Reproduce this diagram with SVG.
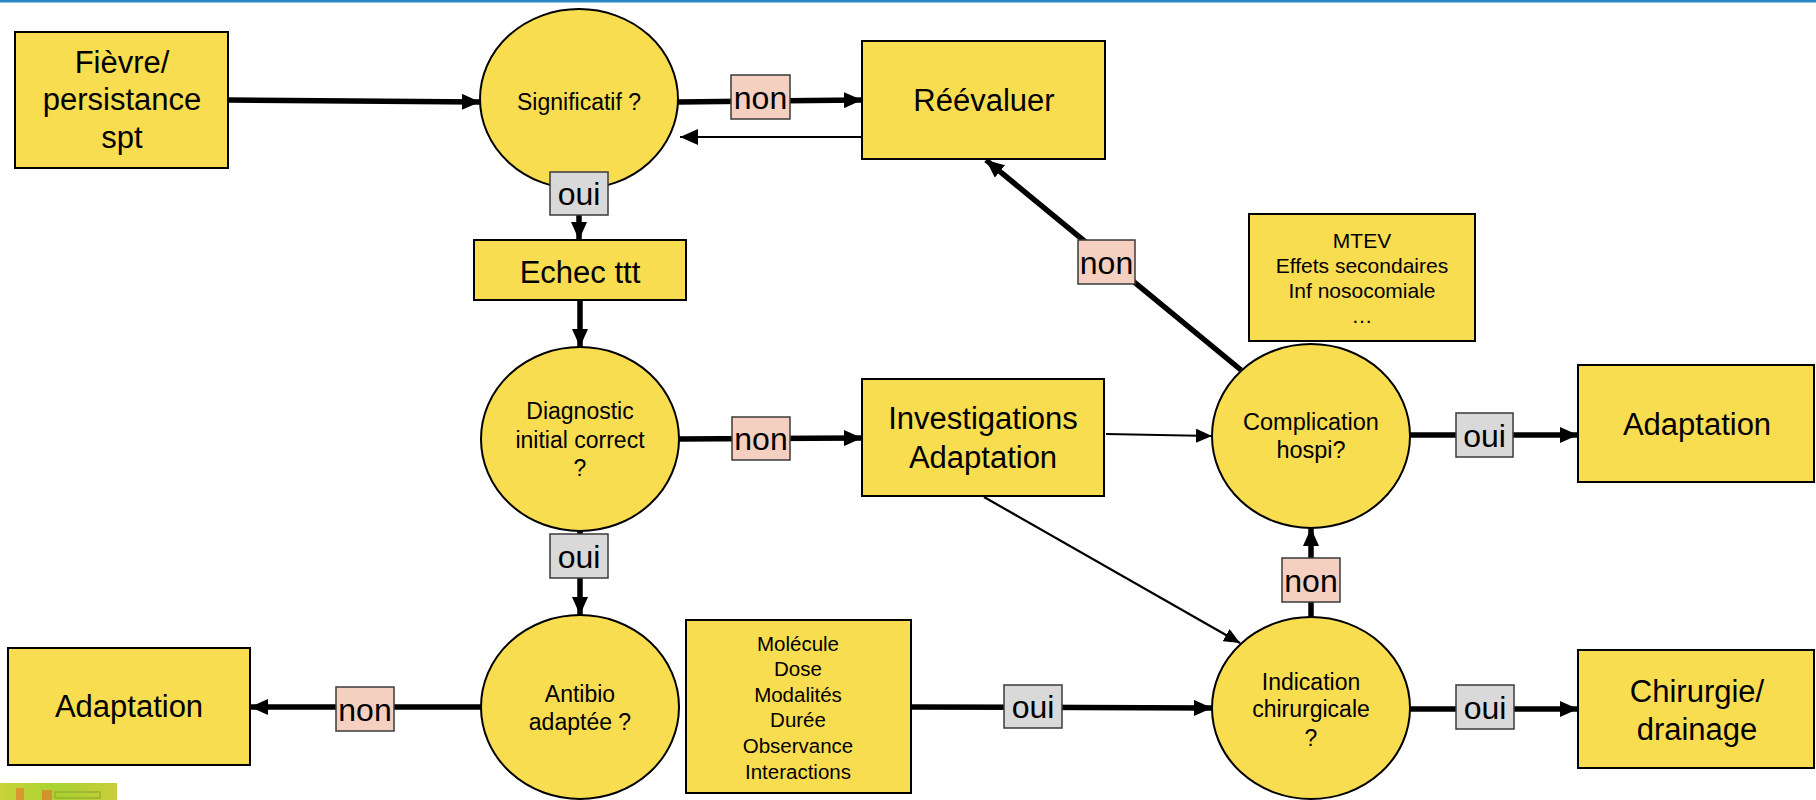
<svg xmlns="http://www.w3.org/2000/svg" width="1816" height="800" viewBox="0 0 1816 800">
<defs>
<style>
.box{fill:#F9DD50;stroke:#000;stroke-width:2}
.nd{fill:#F9DD50;stroke:#000;stroke-width:2}
.t{font-family:"Liberation Sans",Arial,sans-serif;fill:#000;text-anchor:middle}
.big{font-size:31px}
.mid{font-size:23px}
.sm{font-size:20.5px}
.lbl{font-size:32px}
.non{fill:#F5D0C0;stroke:#3a3a3a;stroke-width:1.5}
.oui{fill:#D9D9D9;stroke:#3a3a3a;stroke-width:1.5}
.thick{stroke:#000;stroke-width:5.5;fill:none}
.thin{stroke:#000;stroke-width:2.2;fill:none}
</style>
<marker id="ah" markerUnits="userSpaceOnUse" markerWidth="18" markerHeight="16" refX="18" refY="8" orient="auto"><path d="M0,0 L18,8 L0,16 Z" fill="#000"/></marker>
<marker id="ahs" markerUnits="userSpaceOnUse" markerWidth="16" markerHeight="14" refX="16" refY="7" orient="auto"><path d="M0,0 L16,7 L0,14 Z" fill="#000"/></marker>
<linearGradient id="logo" x1="0" y1="0" x2="1" y2="0"><stop offset="0" stop-color="#C9D33A"/><stop offset="0.5" stop-color="#A9D230"/><stop offset="1" stop-color="#C8CE3A"/></linearGradient>
</defs>
<rect x="0" y="0" width="1816" height="2.5" fill="#2A86C4"/>
<g id="logo-fragment">
<rect x="0" y="783" width="117" height="17" fill="url(#logo)"/>
<rect x="16" y="788" width="8" height="12" fill="#E08A2A" opacity="0.8"/>
<rect x="42" y="790" width="10" height="10" fill="#E0782A" opacity="0.7"/>
<rect x="55" y="792" width="45" height="6" fill="none" stroke="#9AB030" stroke-width="1.5"/>
</g>
<g id="connectors">
<line class="thick" x1="228" y1="100" x2="480" y2="102" marker-end="url(#ah)"/>
<line class="thick" x1="678" y1="102" x2="862" y2="100" marker-end="url(#ah)"/>
<line class="thin" x1="862" y1="137" x2="680" y2="137" marker-end="url(#ah)"/>
<line class="thick" x1="579" y1="189" x2="579" y2="240" marker-end="url(#ah)"/>
<line class="thick" x1="580" y1="300" x2="580" y2="347" marker-end="url(#ah)"/>
<line class="thick" x1="679" y1="439" x2="862" y2="438" marker-end="url(#ah)"/>
<line class="thick" x1="580" y1="531" x2="580" y2="615" marker-end="url(#ah)"/>
<line class="thick" x1="481" y1="707" x2="250" y2="707" marker-end="url(#ah)"/>
<line class="thick" x1="911" y1="707" x2="1212" y2="708" marker-end="url(#ah)"/>
<line class="thin" x1="1106" y1="434" x2="1212" y2="436" marker-end="url(#ahs)"/>
<line class="thin" x1="984" y1="497" x2="1240" y2="643" marker-end="url(#ahs)"/>
<line class="thick" x1="1241" y1="370" x2="986" y2="160" marker-end="url(#ah)"/>
<line class="thick" x1="1410" y1="435" x2="1578" y2="435" marker-end="url(#ah)"/>
<line class="thick" x1="1311" y1="617" x2="1311" y2="528" marker-end="url(#ah)"/>
<line class="thick" x1="1410" y1="709" x2="1578" y2="709" marker-end="url(#ah)"/>
</g>
<g id="fievre"><rect class="box" x="15" y="32" width="213" height="136"/>
<text class="t big"><tspan x="122" y="73">Fièvre/</tspan><tspan x="122" y="110">persistance</tspan><tspan x="122" y="148">spt</tspan></text></g>
<g id="significatif"><ellipse class="nd" cx="579" cy="99" rx="99" ry="90"/>
<text class="t mid" x="579" y="110">Significatif ?</text></g>
<g id="reevaluer"><rect class="box" x="862" y="41" width="243" height="118"/>
<text class="t big" x="984" y="111">Réévaluer</text></g>
<g id="echec"><rect class="box" x="474" y="240" width="212" height="60"/>
<text class="t big" x="580" y="283">Echec ttt</text></g>
<g id="diagnostic"><ellipse class="nd" cx="580" cy="439" rx="99" ry="92"/>
<text class="t mid"><tspan x="580" y="419">Diagnostic</tspan><tspan x="580" y="448">initial correct</tspan><tspan x="580" y="476">?</tspan></text></g>
<g id="investigations"><rect class="box" x="862" y="379" width="242" height="117"/>
<text class="t big"><tspan x="983" y="429">Investigations</tspan><tspan x="983" y="468">Adaptation</tspan></text></g>
<g id="mtev"><rect class="box" x="1249" y="214" width="226" height="127"/>
<text class="t" style="font-size:21px"><tspan x="1362" y="248">MTEV</tspan><tspan x="1362" y="273">Effets secondaires</tspan><tspan x="1362" y="298">Inf nosocomiale</tspan><tspan x="1362" y="323">…</tspan></text></g>
<g id="complication"><ellipse class="nd" cx="1311" cy="436" rx="99" ry="92"/>
<text class="t" style="font-size:23.5px"><tspan x="1311" y="430">Complication</tspan><tspan x="1311" y="458">hospi?</tspan></text></g>
<g id="adaptation-right"><rect class="box" x="1578" y="365" width="236" height="117"/>
<text class="t big" x="1697" y="435">Adaptation</text></g>
<g id="antibio"><ellipse class="nd" cx="580" cy="707" rx="99" ry="92"/>
<text class="t mid"><tspan x="580" y="702">Antibio</tspan><tspan x="580" y="730">adaptée ?</tspan></text></g>
<g id="adaptation-left"><rect class="box" x="8" y="648" width="242" height="117"/>
<text class="t big" x="129" y="717">Adaptation</text></g>
<g id="molecule"><rect class="box" x="686" y="620" width="225" height="173"/>
<text class="t sm"><tspan x="798" y="651">Molécule</tspan><tspan x="798" y="676">Dose</tspan><tspan x="798" y="702">Modalités</tspan><tspan x="798" y="727">Durée</tspan><tspan x="798" y="753">Observance</tspan><tspan x="798" y="779">Interactions</tspan></text></g>
<g id="indication"><ellipse class="nd" cx="1311" cy="708" rx="99" ry="91"/>
<text class="t mid"><tspan x="1311" y="690">Indication</tspan><tspan x="1311" y="717">chirurgicale</tspan><tspan x="1311" y="746">?</tspan></text></g>
<g id="chirurgie"><rect class="box" x="1578" y="650" width="236" height="118"/>
<text class="t big"><tspan x="1697" y="702">Chirurgie/</tspan><tspan x="1697" y="740">drainage</tspan></text></g>
<g id="labels">
<rect class="oui" x="550" y="172" width="58" height="43"/><text class="t lbl" x="579" y="205">oui</text>
<rect class="non" x="731" y="75" width="59" height="44"/><text class="t lbl" x="760.5" y="109">non</text>
<rect class="non" x="732" y="417" width="58" height="43"/><text class="t lbl" x="761" y="450">non</text>
<rect class="oui" x="550" y="534" width="58" height="44"/><text class="t lbl" x="579" y="568">oui</text>
<rect class="non" x="1078" y="240" width="57" height="44"/><text class="t lbl" x="1106.5" y="274">non</text>
<rect class="oui" x="1456" y="413" width="57" height="44"/><text class="t lbl" x="1484.5" y="447">oui</text>
<rect class="non" x="1282" y="558" width="58" height="44"/><text class="t lbl" x="1311" y="592">non</text>
<rect class="oui" x="1456" y="685" width="58" height="44"/><text class="t lbl" x="1485" y="719">oui</text>
<rect class="oui" x="1004" y="685" width="58" height="43"/><text class="t lbl" x="1033" y="718">oui</text>
<rect class="non" x="336" y="687" width="58" height="44"/><text class="t lbl" x="365" y="721">non</text>
</g>
</svg>
